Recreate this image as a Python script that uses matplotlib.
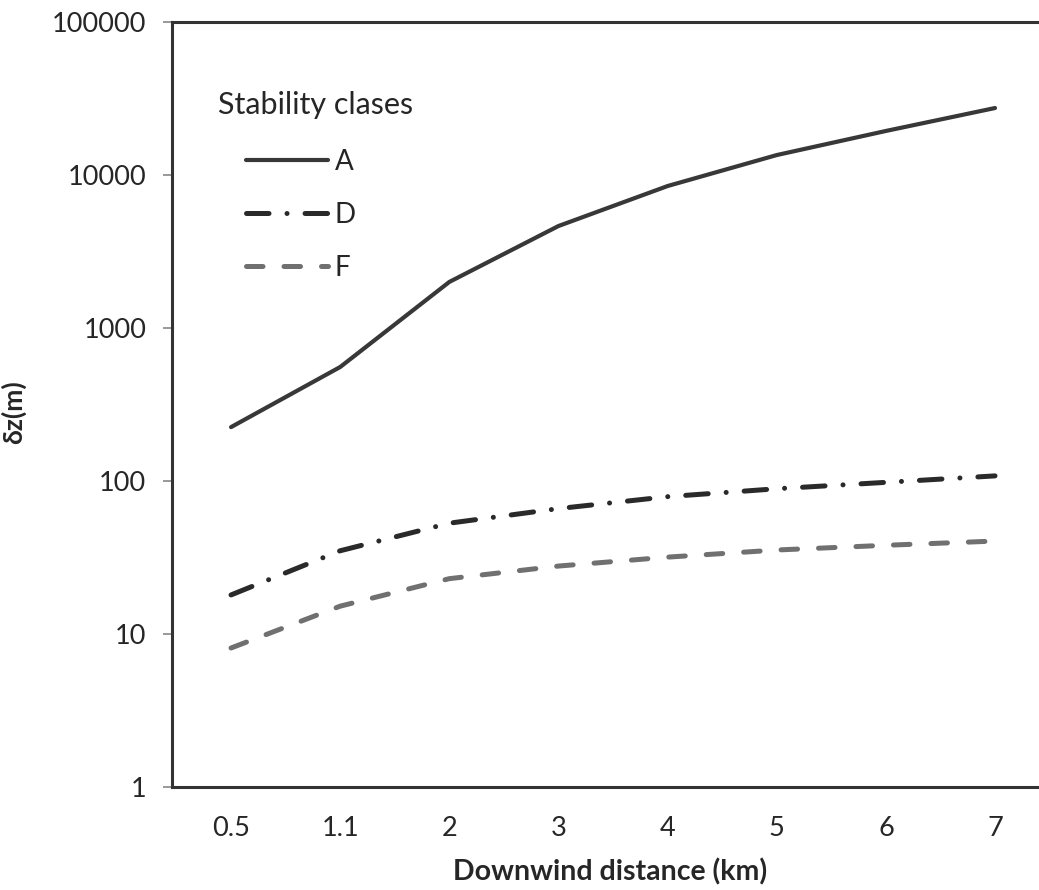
import numpy as np
import matplotlib.pyplot as plt

plt.rcParams['font.family'] = ['Lato', 'DejaVu Sans']

# downwind distance categories (km)
distances = ['0.5', '1.1', '2', '3', '4', '5', '6', '7']

# vertical dispersion (m) per stability class
sigma_a = [225, 556, 2000, 4640, 8470, 13500, 19400, 27400]
sigma_d = [18, 35, 53, 66, 79, 89, 98, 108]
sigma_f = [8.1, 15.2, 23, 27.8, 31.8, 35.4, 38, 40.5]

x = np.arange(len(distances))

fig = plt.figure(figsize=(10.39, 8.9), dpi=100)
ax = fig.add_axes([172/1039, 103/890, 867/1039, 765/890])

ax.plot(x, sigma_a, color='#383838', lw=3.0, solid_capstyle='round', label='A')
ax.plot(x, sigma_d, color='#2a2a2a', lw=3.6, dash_capstyle='round',
        dashes=(4.5, 3.6, 0.01, 3.6), label='D')
ax.plot(x, sigma_f, color='#707070', lw=3.6, dash_capstyle='round',
        dashes=(3.3, 4.2), label='F')

ax.set_yscale('log')
ax.set_ylim(1, 100000)
ax.set_xlim(-0.541, 7.403)
ax.set_yticks([1, 10, 100, 1000, 10000, 100000])
ax.set_yticklabels(['1', '10', '100', '1000', '10000', '100000'])
ax.minorticks_off()
ax.set_xticks(x)
ax.set_xticklabels(distances)

ax.tick_params(axis='y', length=6.5, width=1.2, color='#888888', pad=12,
               labelsize=19.5, labelcolor='#262626')
ax.tick_params(axis='x', length=0, pad=21, labelsize=19.5, labelcolor='#262626')

for s in ['left', 'bottom', 'top']:
    ax.spines[s].set_color('#333333')
    ax.spines[s].set_linewidth(2.2)
ax.spines['right'].set_visible(False)

ax.set_xlabel('Downwind distance (km)', fontsize=20.5, fontweight='bold',
              color='#262626')
ax.xaxis.set_label_coords(0.505, -0.093)
ax.set_ylabel('δz(m)', fontsize=19, fontweight='bold', color='#262626')
ax.yaxis.set_label_coords(-0.168, 0.49)

# legend
fig.text(218/1039, 1 - 105/890, 'Stability clases', fontsize=22,
         color='#262626', va='center', ha='left')
leg = ax.legend(loc='upper left', bbox_to_anchor=(74/867, 1 - 127/765),
                frameon=False, fontsize=20, handlelength=2.95,
                handletextpad=0.25, labelspacing=0.97, borderaxespad=0,
                borderpad=0)
for t in leg.get_texts():
    t.set_color('#262626')

fig.savefig('out.png', dpi=100)
